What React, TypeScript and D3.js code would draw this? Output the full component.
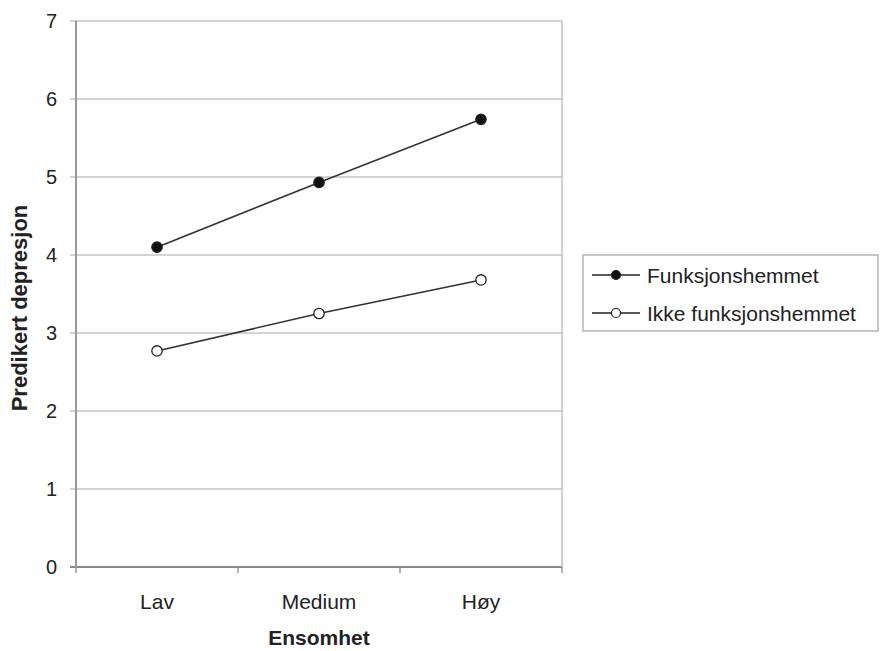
import React from "react";
import * as d3 from "d3";

const categories = ["Lav", "Medium", "Høy"];
const seriesNames = ["Funksjonshemmet", "Ikke funksjonshemmet"];
const funksjonshemmet = [4.1, 4.93, 5.74];
const ikkeFunksjonshemmet = [2.77, 3.25, 3.68];
const yTicks = [0, 1, 2, 3, 4, 5, 6, 7];

export default function App() {
  const W = 881, H = 651;
  const left = 76, right = 562, top = 21, bottom = 567;
  const x = d3.scaleBand().domain(categories).range([left, right]);
  const y = d3.scaleLinear().domain([0, 7]).range([bottom, top]);
  const line = d3.line<number>().x((_, i) => x(categories[i])! + x.bandwidth() / 2).y((d) => y(d));
  const series = [
    { name: seriesNames[0], values: funksjonshemmet, fill: "#111" },
    { name: seriesNames[1], values: ikkeFunksjonshemmet, fill: "#fff" },
  ];
  const font = "Liberation Sans, Arial, sans-serif";
  const bounds = [left, ...categories.map((c) => x(c)! + x.bandwidth())];
  return (
    <svg width={W} height={H} style={{ position: "absolute", left: 0, top: 0 }} fontFamily={font}>
      <rect width={W} height={H} fill="#fff" />
      {yTicks.map((t) => (
        <line key={t} x1={left - 6} x2={right} y1={y(t)} y2={y(t)} stroke={t === 0 ? "#888" : "#c4c4c4"} strokeWidth={t === 0 ? 2 : 1.6} />
      ))}
      <line x1={left} x2={left} y1={top} y2={bottom} stroke="#999" strokeWidth={2} />
      <line x1={right} x2={right} y1={top} y2={bottom} stroke="#c4c4c4" strokeWidth={1.6} />
      {bounds.map((b, i) => (
        <line key={i} x1={b} x2={b} y1={bottom} y2={bottom + 6} stroke="#999" strokeWidth={1.5} />
      ))}
      {yTicks.map((t) => (
        <text key={t} x={57} y={y(t)} dy="0.36em" textAnchor="end" fontSize={20} fill="#222">{t}</text>
      ))}
      {categories.map((c) => (
        <text key={c} x={x(c)! + x.bandwidth() / 2} y={609} textAnchor="middle" fontSize={21} fill="#222">{c}</text>
      ))}
      <text x={(left + right) / 2} y={645} textAnchor="middle" fontSize={21} fontWeight="bold" fill="#222">Ensomhet</text>
      <text transform={`translate(27,308) rotate(-90)`} textAnchor="middle" fontSize={22} fontWeight="bold" fill="#222">Predikert depresjon</text>
      {series.map((s) => (
        <g key={s.name}>
          <path d={line(s.values)!} fill="none" stroke="#333" strokeWidth={1.6} />
          {s.values.map((v, i) => (
            <circle key={i} cx={x(categories[i])! + x.bandwidth() / 2} cy={y(v)} r={5.2} fill={s.fill} stroke="#222" strokeWidth={1.3} />
          ))}
        </g>
      ))}
      <rect x={583} y={255} width={295} height={76} fill="#fff" stroke="#aaa" strokeWidth={1.3} />
      {series.map((s, i) => (
        <g key={s.name} transform={`translate(0,${275 + i * 38})`}>
          <line x1={592} x2={640} y1={0} y2={0} stroke="#222" strokeWidth={1.5} />
          <circle cx={616} cy={0} r={4.5} fill={s.fill} stroke="#222" strokeWidth={1.2} />
          <text x={647} y={0} dy="0.36em" fontSize={21} fill="#222">{s.name}</text>
        </g>
      ))}
    </svg>
  );
}
